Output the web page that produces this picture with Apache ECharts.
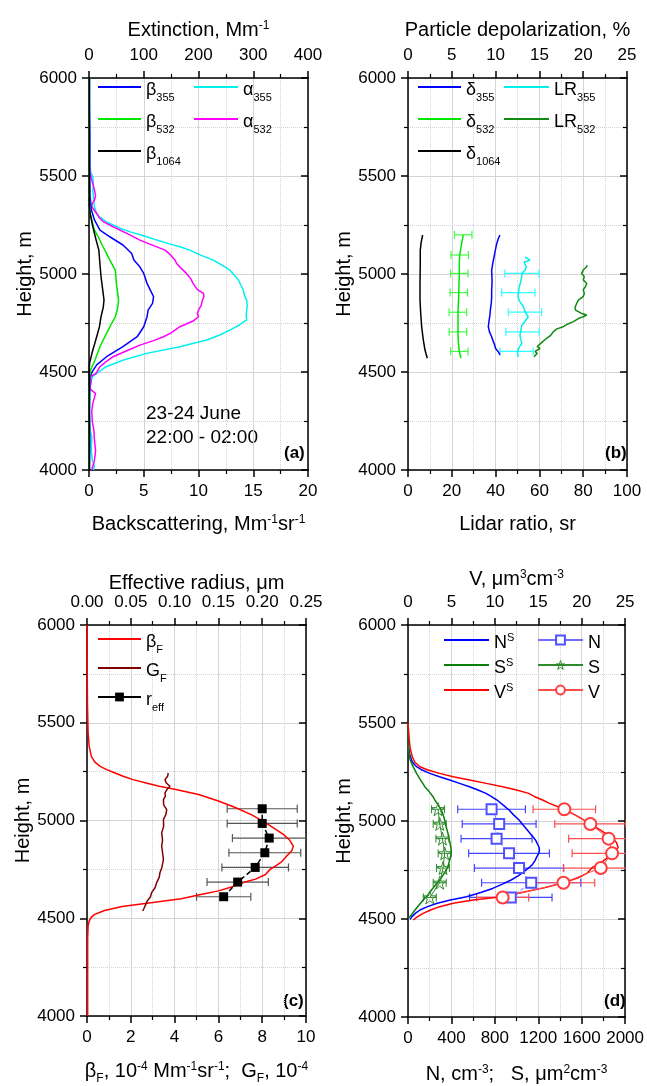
<!DOCTYPE html>
<html>
<head>
<meta charset="utf-8">
<script src="https://cdn.jsdelivr.net/npm/echarts@6/dist/echarts.min.js"></script>
<style>
html, body { margin: 0; background: #fff; }
#chart { width: 647px; height: 1086px; }
</style>
</head>
<body>
<div id="chart"></div>
<script>
// ---- (a) backscatter, Mm-1 sr-1 (bottom axis) ----
const b355H = [4000, 4150, 4300, 4450, 4477, 4502, 4536, 4578, 4629, 4680, 4731, 4782, 4816, 4850, 4884, 4918, 4952, 5003, 5040, 5071, 5105, 5148, 5190, 5224, 5276, 5330, 5400, 5550, 5700, 5850, 6000];
const b355V = [0.05, 0.08, 0.04, 0.06, 0.1, 0.3, 0.7, 1.6, 3.1, 4.4, 5.0, 5.3, 5.4, 5.8, 5.9, 5.6, 5.3, 5.0, 4.6, 4.1, 3.9, 3.1, 1.9, 1.0, 0.5, 0.2, 0.1, 0.06, 0.08, 0.05, 0.05];
const b532H = [4000, 4200, 4400, 4477, 4510, 4561, 4629, 4697, 4740, 4782, 4820, 4867, 4910, 4952, 5020, 5071, 5105, 5148, 5190, 5224, 5276, 5326, 5450, 5700, 6000];
const b532V = [0.02, 0.03, 0.02, 0.05, 0.15, 0.55, 1.0, 1.6, 2.0, 2.4, 2.6, 2.7, 2.6, 2.5, 2.4, 1.9, 1.6, 1.2, 0.85, 0.5, 0.25, 0.05, 0.03, 0.02, 0.02];
const b1064H = [4000, 4250, 4500, 4544, 4580, 4612, 4650, 4680, 4730, 4782, 4830, 4867, 4920, 4986, 5050, 5122, 5173, 5241, 5309, 5350, 5600, 6000];
const b1064V = [0.02, 0.02, 0.02, 0.05, 0.2, 0.35, 0.55, 0.7, 0.95, 1.1, 1.3, 1.37, 1.25, 1.1, 1.0, 0.9, 0.65, 0.35, 0.1, 0.03, 0.02, 0.02];
// extinction, Mm-1 (top axis)
const a532H = [4000, 4008, 4050, 4100, 4150, 4200, 4250, 4300, 4340, 4391, 4410, 4425, 4450, 4477, 4493, 4527, 4550, 4578, 4610, 4637, 4660, 4680, 4700, 4731, 4760, 4782, 4800, 4816, 4840, 4867, 4885, 4901, 4920, 4952, 4975, 5003, 5030, 5054, 5071, 5100, 5122, 5145, 5173, 5207, 5241, 5267, 5290, 5309, 5343, 5360, 5377, 5400, 5428, 5450, 5479, 5513, 5550, 5700, 6000];
const a532V = [5, 7, 10, 12, 10, 9, 6, 5, 7, 12, 3, 2, 4, 3, 13, 20, 30, 44, 70, 93, 118, 136, 150, 166, 190, 200, 198, 200, 205, 207, 210, 209, 198, 190, 186, 178, 168, 160, 157, 148, 139, 118, 93, 69, 44, 26, 18, 14, 5, 6, 10, 12, 10, 8, 5, 2, 1, 0.5, 0.5];
const a355H = [4000, 4020, 4050, 4100, 4170, 4200, 4300, 4400, 4450, 4477, 4493, 4527, 4561, 4595, 4629, 4663, 4690, 4714, 4740, 4756, 4765, 4790, 4816, 4840, 4867, 4890, 4918, 4940, 4969, 4995, 5020, 5045, 5071, 5095, 5122, 5139, 5155, 5173, 5195, 5215, 5232, 5250, 5267, 5290, 5309, 5340, 5377, 5420, 5460, 5496, 5520, 5550, 5700, 6000];
const a355V = [8, 10, 6, 4, 5, 2, 1, 2, 3, 7, 14, 31, 63, 105, 166, 215, 240, 257, 275, 282, 288, 287, 288, 289, 288, 284, 282, 278, 273, 265, 257, 243, 227, 205, 184, 166, 145, 124, 100, 75, 58, 44, 31, 20, 14, 10, 9, 7, 8, 7, 3, 2, 1, 1];

// ---- (b) depolarization, % (top axis) ----
const d1064H = [4570, 4612, 4663, 4731, 4800, 4867, 4950, 5050, 5122, 5160, 5199];
const d1064V = [2.2, 1.94, 1.75, 1.56, 1.45, 1.37, 1.37, 1.4, 1.4, 1.5, 1.67];
const d532H = [4570, 4604, 4650, 4697, 4750, 4799, 4850, 4901, 4950, 5003, 5050, 5097, 5150, 5199];
const d532V = [6.05, 5.86, 5.75, 5.7, 5.72, 5.7, 5.75, 5.8, 5.82, 5.86, 5.85, 5.9, 6.1, 6.3];
const d355H = [4587, 4604, 4620, 4637, 4660, 4680, 4705, 4731, 4760, 4790, 4816, 4850, 4880, 4918, 4960, 5020, 5060, 5105, 5150, 5180, 5199];
const d355V = [10.5, 10.3, 10.0, 9.9, 9.7, 9.55, 9.3, 9.17, 9.25, 9.35, 9.4, 9.5, 9.55, 9.55, 9.6, 9.55, 9.7, 9.9, 10.1, 10.3, 10.5];
const d532ErrH = [4605, 4705, 4805, 4905, 5003, 5097, 5200];
const d532ErrV = [5.86, 5.7, 5.7, 5.8, 5.86, 5.9, 6.3];
const d532Err = [1.0, 1.0, 1.0, 1.0, 1.0, 1.0, 1.0];
// lidar ratio, sr (bottom axis)
const lr355H = [4578, 4595, 4612, 4630, 4645, 4665, 4687, 4710, 4737, 4760, 4782, 4805, 4833, 4860, 4884, 4910, 4935, 4960, 4986, 5003, 5020, 5037, 5060, 5071, 5088];
const lr355V = [50.5, 50, 50.2, 51, 52, 51.5, 51.1, 51.5, 51.9, 53.5, 54.9, 53.5, 52.7, 51, 50.2, 50.5, 50.8, 51.5, 51.9, 52, 53.5, 54, 53, 55.7, 53.4];
const lr355ErrH = [4605, 4705, 4805, 4905, 5003];
const lr355ErrV = [49.6, 52.3, 53.4, 50.4, 52.0];
const lr355Err = [7.6, 7.6, 7.6, 7.6, 7.8];
const lr532H = [4578, 4583, 4595, 4605, 4612, 4620, 4630, 4637, 4650, 4672, 4685, 4695, 4706, 4720, 4731, 4745, 4757, 4774, 4782, 4791, 4800, 4816, 4830, 4850, 4867, 4885, 4901, 4920, 4935, 4952, 4970, 4986, 5003, 5020, 5037, 5045];
const lr532V = [57.5, 57.2, 59, 58, 58, 60.3, 59, 58.8, 61, 63.3, 65, 64.5, 66.4, 68, 70.9, 73, 75.5, 78, 80, 81.6, 79, 76.5, 76.3, 77, 77.8, 80, 80.5, 80, 81, 81.6, 80, 80.5, 79.3, 80, 81.6, 81.8];

// ---- (c) beta_F, G_F (bottom axis), r_eff (top axis) ----
const bFH = [4000, 4200, 4400, 4461, 4485, 4503, 4520, 4540, 4560, 4580, 4600, 4622, 4640, 4660, 4685, 4700, 4724, 4750, 4767, 4790, 4818, 4845, 4869, 4900, 4929, 4960, 4996, 5030, 5065, 5100, 5133, 5160, 5175, 5192, 5209, 5226, 5243, 5260, 5277, 5300, 5328, 5379, 5450, 5600, 6000];
const bFV = [0.03, 0.03, 0.03, 0.05, 0.1, 0.18, 0.35, 0.8, 1.6, 3.0, 4.3, 5.2, 6.0, 6.6, 7.2, 7.7, 8.15, 8.36, 8.6, 8.9, 9.12, 9.35, 9.42, 9.25, 8.96, 8.55, 8.05, 7.5, 6.8, 6.0, 5.1, 4.0, 3.3, 2.7, 2.1, 1.65, 1.28, 0.9, 0.6, 0.35, 0.2, 0.1, 0.05, 0.02, 0.0];
const gFH = [4537, 4550, 4563, 4575, 4588, 4610, 4631, 4655, 4682, 4710, 4733, 4760, 4801, 4835, 4869, 4900, 4937, 4970, 5005, 5030, 5056, 5080, 5107, 5125, 5141, 5158, 5175, 5192, 5209, 5226, 5243];
const gFV = [2.54, 2.6, 2.65, 2.7, 2.75, 2.9, 2.95, 3.1, 3.18, 3.3, 3.33, 3.42, 3.49, 3.45, 3.41, 3.45, 3.41, 3.5, 3.49, 3.6, 3.64, 3.5, 3.49, 3.58, 3.56, 3.65, 3.79, 3.62, 3.56, 3.68, 3.71];
const measH = [4610, 4685, 4760, 4835, 4910, 4985, 5060];
const reffV = [0.156, 0.172, 0.192, 0.203, 0.208, 0.200, 0.200];
const reffErr = [0.031, 0.035, 0.038, 0.041, 0.042, 0.040, 0.040];

// ---- (d) N, S (bottom axis), V (top axis) ----
const nsH = [4498, 4512, 4530, 4546, 4563, 4580, 4597, 4614, 4635, 4656, 4678, 4699, 4720, 4742, 4760, 4776, 4798, 4818, 4835, 4852, 4870, 4886, 4903, 4930, 4954, 4980, 5005, 5030, 5056, 5080, 5107, 5124, 5141, 5158, 5175, 5192, 5209, 5226, 5243, 5260, 5277, 5294, 5311, 5340, 5380, 5413, 5500];
const nsV = [20, 37, 70, 110, 180, 270, 390, 540, 670, 780, 870, 950, 1015, 1068, 1110, 1144, 1170, 1187, 1205, 1211, 1205, 1190, 1175, 1135, 1099, 1060, 1023, 975, 931, 880, 820, 770, 718, 645, 566, 475, 384, 290, 201, 130, 79, 50, 33, 15, 5, 1, 0];
const ssH = [4503, 4520, 4546, 4570, 4597, 4620, 4648, 4675, 4699, 4725, 4750, 4775, 4801, 4825, 4852, 4880, 4910, 4937, 4970, 5005, 5030, 5056, 5080, 5107, 5124, 5150, 5175, 5210, 5243, 5280, 5311, 5350, 5396, 5500];
const ssV = [3, 30, 64, 100, 140, 180, 216, 255, 292, 325, 353, 372, 384, 395, 399, 390, 378, 368, 352, 338, 325, 307, 280, 247, 231, 195, 155, 115, 79, 45, 20, 8, 0, 0];
const vsH = [4495, 4512, 4529, 4546, 4563, 4580, 4597, 4611, 4625, 4639, 4660, 4685, 4710, 4733, 4765, 4793, 4835, 4865, 4890, 4910, 4950, 4985, 5020, 5060, 5090, 5107, 5124, 5141, 5158, 5175, 5192, 5209, 5226, 5243, 5260, 5277, 5300, 5328, 5370, 5413, 5500];
const vsV = [0.6, 1.1, 1.75, 2.6, 3.65, 5.2, 7.5, 10.3, 12.0, 13.5, 15.8, 17.9, 19.6, 20.6, 21.3, 22.4, 23.6, 24.2, 24.0, 23.6, 22.3, 21.0, 19.7, 18.0, 16.3, 15.5, 14.6, 13.9, 12.5, 10.9, 9.0, 7.1, 5.2, 3.65, 2.3, 1.37, 0.8, 0.5, 0.25, 0.15, 0];
const nMeas = [947, 1135, 1023, 931, 816, 840, 770];
const nErr = [380, 457, 411, 372, 327, 340, 312];
const sMeas = [201, 292, 323, 338, 317, 292, 277];
const sErr = [60, 60, 60, 60, 60, 60, 60];
const vMeas = [10.9, 17.9, 22.2, 23.5, 23.1, 21.0, 18.0];
const vErr = [3.0, 3.6, 4.3, 4.6, 4.6, 4.1, 3.6];

const FONT = '"Liberation Sans", Arial, sans-serif';
const chart = echarts.init(document.getElementById('chart'));

function pairs(vals, hs) {
    return vals.map(function (v, i) { return [v, hs[i]]; });
}
const plainNum = function (v) { return String(v); };

// rich styles for axis titles (superscripts / subscripts)
const nameRich = {
    t: { fontSize: 20, lineHeight: 22, padding: [6, 0, 0, 0], verticalAlign: 'top', fontFamily: FONT, color: '#000' },
    u: { fontSize: 12, lineHeight: 12, padding: [6, 0, 0, 0], verticalAlign: 'top', fontFamily: FONT, color: '#000' },
    d: { fontSize: 12, lineHeight: 12, padding: [18, 0, 0, 0], verticalAlign: 'top', fontFamily: FONT, color: '#000' }
};
const legRich = {
    g: { fontSize: 18, lineHeight: 20, padding: [4, 0, 0, 0], verticalAlign: 'top', fontFamily: FONT, color: '#000' },
    s: { fontSize: 11, lineHeight: 12, padding: [15, 0, 0, 0], verticalAlign: 'top', fontFamily: FONT, color: '#000' },
    p: { fontSize: 11, lineHeight: 12, padding: [2, 0, 0, 0], verticalAlign: 'top', fontFamily: FONT, color: '#000' }
};
const legText = {
    b355: '{g|β}{s|355}', b532: '{g|β}{s|532}', b1064: '{g|β}{s|1064}',
    a355: '{g|α}{s|355}', a532: '{g|α}{s|532}',
    d355: '{g|δ}{s|355}', d532: '{g|δ}{s|532}', d1064: '{g|δ}{s|1064}',
    LR355: '{g|LR}{s|355}', LR532: '{g|LR}{s|532}',
    bF: '{g|β}{s|F}', GF: '{g|G}{s|F}', reff: '{g|r}{s|eff}',
    NS: '{g|N}{p|S}', SS: '{g|S}{p|S}', VS: '{g|V}{p|S}',
    N: '{g|N}', S: '{g|S}', V: '{g|V}'
};

const grids = [
    { left: 89, top: 78, width: 219, height: 392 },
    { left: 408, top: 78, width: 219, height: 392 },
    { left: 87, top: 625, width: 219, height: 392 },
    { left: 408, top: 625, width: 219, height: 392 }
];

function xAxis(grid, pos, max, interval, name, gap, fmt) {
    const bottom = pos === 'bottom';
    return {
        type: 'value', gridIndex: grid, position: pos, min: 0, max: max, interval: interval,
        name: name, nameLocation: 'middle', nameGap: gap,
        nameTextStyle: { rich: nameRich },
        axisLine: { show: true, onZero: false, lineStyle: { color: '#000', width: 1.5 } },
        axisTick: { show: true, length: 7, lineStyle: { color: '#000', width: 1.5 } },
        minorTick: { show: true, splitNumber: 2, length: 4, lineStyle: { color: '#000', width: 1.2 } },
        axisLabel: { fontSize: 17, color: '#000', fontFamily: FONT, margin: bottom ? 13 : 14, formatter: fmt || plainNum },
        splitLine: { show: bottom, lineStyle: { color: '#d4d4d4', width: 1 } },
        minorSplitLine: { show: bottom, lineStyle: { color: '#d4d4d4', width: 1, type: 'dotted' } }
    };
}

function yAxis(grid, pos) {
    const left = pos === 'left';
    return {
        type: 'value', gridIndex: grid, position: pos, min: 4000, max: 6000, interval: 500,
        name: left ? 'Height, m' : '', nameLocation: 'middle', nameGap: 53,
        nameTextStyle: { fontSize: 20, color: '#000', fontFamily: FONT },
        axisLine: { show: true, onZero: false, lineStyle: { color: '#000', width: 1.5 } },
        axisTick: { show: true, inside: !left, length: 7, lineStyle: { color: '#000', width: 1.5 } },
        minorTick: { show: true, splitNumber: 2, length: 4, lineStyle: { color: '#000', width: 1.2 } },
        axisLabel: { show: left, fontSize: 17, color: '#000', fontFamily: FONT, margin: 12, formatter: plainNum },
        splitLine: { show: left, lineStyle: { color: '#d4d4d4', width: 1 } },
        minorSplitLine: { show: left, lineStyle: { color: '#d4d4d4', width: 1, type: 'dotted' } }
    };
}

function line(name, xi, vals, hs, color, width, extra) {
    return Object.assign({
        name: name, type: 'line', xAxisIndex: xi, yAxisIndex: Math.floor(xi / 2) * 2,
        data: pairs(vals, hs), symbol: 'none', color: color,
        lineStyle: { color: color, width: width }
    }, extra || {});
}

// horizontal error bars drawn through the axis scales
function errBars(xi, vals, errs, hs, color, cap, width) {
    return {
        type: 'custom', xAxisIndex: xi, yAxisIndex: Math.floor(xi / 2) * 2,
        silent: true, clip: true,
        encode: { x: [0, 1], y: 2 },
        data: vals.map(function (v, i) { return [v - errs[i], v + errs[i], hs[i]]; }),
        renderItem: function (params, api) {
            const p0 = api.coord([api.value(0), api.value(2)]);
            const p1 = api.coord([api.value(1), api.value(2)]);
            const st = { stroke: color, lineWidth: width };
            return {
                type: 'group', children: [
                    { type: 'line', shape: { x1: p0[0], y1: p0[1], x2: p1[0], y2: p1[1] }, style: st },
                    { type: 'line', shape: { x1: p0[0], y1: p0[1] - cap, x2: p0[0], y2: p0[1] + cap }, style: st },
                    { type: 'line', shape: { x1: p1[0], y1: p1[1] - cap, x2: p1[0], y2: p1[1] + cap }, style: st }
                ]
            };
        }
    };
}

function legend(items, left, top, gap, w, ih) {
    return {
        data: items, orient: 'vertical', left: left, top: top, itemGap: gap,
        itemWidth: w, itemHeight: ih || 14, padding: 0, selectedMode: false,
        formatter: function (n) { return legText[n]; },
        textStyle: { rich: legRich }
    };
}
const plain = function (n) { return { name: n, itemStyle: { opacity: 0 } }; };

const STAR = 'path://M50,2 L61,36 L97,36 L68,57 L79,92 L50,71 L21,92 L32,57 L3,36 L39,36 Z';
const starStyle = { color: 'rgba(255,255,255,0)', borderColor: '#2e8b2e', borderWidth: 1 };

const option = {
    animation: false,
    backgroundColor: '#fff',
    textStyle: { fontFamily: FONT },
    grid: grids,
    xAxis: [
        xAxis(0, 'bottom', 20, 5, '{t|Backscattering, Mm}{u|-1}{t|sr}{u|-1}', 38),
        xAxis(0, 'top', 400, 100, '{t|Extinction, Mm}{u|-1}', 42),
        xAxis(1, 'bottom', 100, 20, '{t|Lidar ratio, sr}', 38),
        xAxis(1, 'top', 25, 5, '{t|Particle depolarization, %}', 42),
        xAxis(2, 'bottom', 10, 2, '{t|β}{d|F}{t|, 10}{u|-4}{t| Mm}{u|-1}{t|sr}{u|-1}{t|;  G}{d|F}{t|, 10}{u|-4}', 39),
        xAxis(2, 'top', 0.25, 0.05, '{t|Effective radius, μm}', 35, function (v) { return v.toFixed(2); }),
        xAxis(3, 'bottom', 2000, 400, '{t|N, cm}{u|-3}{t|;   S, μm}{u|2}{t|cm}{u|-3}', 41),
        xAxis(3, 'top', 25, 5, '{t|V, μm}{u|3}{t|cm}{u|-3}', 40)
    ],
    yAxis: [
        yAxis(0, 'left'), yAxis(0, 'right'),
        yAxis(1, 'left'), yAxis(1, 'right'),
        yAxis(2, 'left'), yAxis(2, 'right'),
        yAxis(3, 'left'), yAxis(3, 'right')
    ],
    legend: [
        legend(['b355', 'b532', 'b1064'].map(plain), 97, 77, 6, 43),
        legend(['a355', 'a532'].map(plain), 193, 77, 6, 44),
        legend(['d355', 'd532', 'd1064'].map(plain), 417, 77, 6, 43),
        legend(['LR355', 'LR532'].map(plain), 503, 77, 6, 45),
        legend([plain('bF'), plain('GF'), { name: 'reff', lineStyle: { type: 'solid' } }], 97, 629, 3, 43, 11),
        legend(['NS', 'SS', 'VS'].map(plain), 443, 630, 3, 45, 11),
        legend([{ name: 'N', lineStyle: { type: 'solid' } }, { name: 'S', itemStyle: starStyle }, 'V'], 537, 630, 3, 45, 11)
    ],
    graphic: [
        { type: 'text', left: 146, top: 402, style: { text: '23-24 June\n22:00 - 02:00', fontSize: 19, lineHeight: 24, fontFamily: FONT, fill: '#000' } },
        { type: 'text', left: 284, top: 445, style: { text: '(a)', fontSize: 17, fontWeight: 'bold', fontFamily: FONT, fill: '#000' } },
        { type: 'text', left: 605, top: 445, style: { text: '(b)', fontSize: 17, fontWeight: 'bold', fontFamily: FONT, fill: '#000' } },
        { type: 'text', left: 283, top: 993, style: { text: '(c)', fontSize: 17, fontWeight: 'bold', fontFamily: FONT, fill: '#000' } },
        { type: 'text', left: 604, top: 993, style: { text: '(d)', fontSize: 17, fontWeight: 'bold', fontFamily: FONT, fill: '#000' } }
    ],
    series: [
        // (a)
        line('a355', 1, a355V, a355H, '#00f0f0', 1.5),
        line('a532', 1, a532V, a532H, '#ff00ff', 1.5),
        line('b355', 0, b355V, b355H, '#0000ff', 1.5),
        line('b532', 0, b532V, b532H, '#00e600', 1.5),
        line('b1064', 0, b1064V, b1064H, '#000000', 1.5),
        // (b)
        errBars(3, d532ErrV, d532Err, d532ErrH, '#40ff40', 4, 1.2),
        errBars(2, lr355ErrV, lr355Err, lr355ErrH, '#30ffff', 4, 1.2),
        line('d355', 3, d355V, d355H, '#0000ff', 1.5),
        line('d532', 3, d532V, d532H, '#00e600', 1.5),
        line('d1064', 3, d1064V, d1064H, '#000000', 1.5),
        line('LR355', 2, lr355V, lr355H, '#00f0f0', 1.5),
        line('LR532', 2, lr532V, lr532H, '#138a13', 1.5),
        // (c)
        errBars(5, reffV, reffErr, measH, '#555555', 4, 1.2),
        line('bF', 4, bFV, bFH, '#ff0000', 1.5),
        line('GF', 4, gFV, gFH, '#800000', 1.5),
        line('reff', 5, reffV, measH, '#000000', 1.5, {
            symbol: 'rect', symbolSize: 9,
            itemStyle: { color: '#000' },
            lineStyle: { color: '#000', width: 1.5, type: [5, 3] }
        }),
        // (d)
        errBars(6, nMeas, nErr, measH, '#4646ff', 4, 1.2),
        errBars(7, vMeas, vErr, measH, '#ff4d4d', 4, 1.2),
        errBars(6, sMeas, sErr, measH, '#2e8b2e', 4, 1),
        line('NS', 6, nsV, nsH, '#0000ff', 1.5),
        line('SS', 6, ssV, ssH, '#0a800a', 1.5),
        line('VS', 7, vsV, vsH, '#ff0000', 1.5),
        line('N', 6, nMeas, measH, '#5050ff', 1, {
            symbol: 'emptyRect', symbolSize: 10,
            itemStyle: { color: '#5050ff', borderWidth: 1.2 },
            lineStyle: { color: '#7070ff', width: 1, type: 'dashed' }
        }),
        line('S', 6, sMeas, measH, '#2e8b2e', 1, {
            symbol: STAR, symbolSize: 13,
            itemStyle: starStyle,
            lineStyle: { color: '#2e8b2e', width: 1 }
        }),
        line('V', 7, vMeas, measH, '#ff3b3b', 1, {
            symbol: 'emptyCircle', symbolSize: 12,
            itemStyle: { color: '#ff3b3b', borderWidth: 1.2 },
            lineStyle: { color: '#ff5050', width: 1 }
        })
    ]
};

chart.setOption(option);
</script>
</body>
</html>
